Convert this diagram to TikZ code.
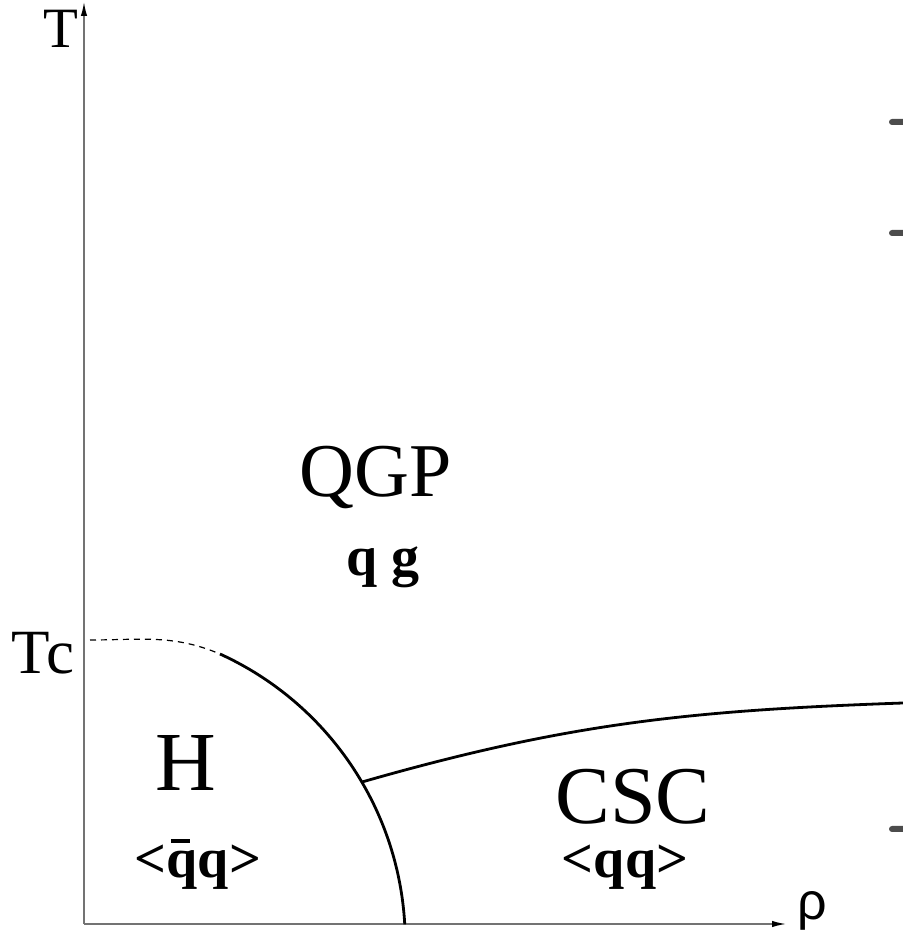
\documentclass[tikz,border=0pt]{standalone}
\usepackage{fontspec}
\setmainfont{Liberation Serif}
\newfontfamily\rhofont{Liberation Sans}
\usetikzlibrary{arrows.meta}

\newcommand{\qbar}{\rlap{\hspace{0.07em}\rule[0.6em]{0.34em}{0.075em}}q}

\begin{document}
\begin{tikzpicture}[
    x=0.5pt, y=0.5pt,
    axis/.style={line width=0.7pt, black!55, -{Latex[length=7pt, width=3.2pt, black]}},
    phase/.style={line width=1.4pt},
    guess/.style={line width=0.6pt, dash pattern=on 3pt off 2.5pt},
    big/.style={inner sep=0pt, anchor=base, text depth=0pt, font=\fontsize{#1}{#1}\selectfont},
    small/.style={inner sep=0pt, anchor=base, text height=20pt, font=\fontsize{#1}{#1}\selectfont\bfseries},
    smudge/.style={fill=black!70, rounded corners=1.5pt}
]
  \useasboundingbox (0,0) rectangle (903,931);

  % --- AXES ---
  \coordinate (o) at (84,7);
  \coordinate (ttop) at (84,929);
  \coordinate (rhoend) at (786,7);
  \draw[axis] (o) -- (ttop);
  \draw[axis] (o) -- (rhoend);

  \node[big=28.5pt] (tlab) at (61,883) {T};
  \node[big=31.5pt] (tclab) at (43,257) {Tc};
  \node[inner sep=0pt, anchor=base, font=\rhofont\fontsize{26pt}{26pt}\selectfont] (rholab) at (812,11) {ρ};

  % --- PHASE BOUNDARIES ---
  \coordinate (tc) at (90,291);
  \coordinate (b) at (220,277);
  \coordinate (d) at (362,149);
  \coordinate (r) at (903,228);

  \draw[guess] (tc) to[out=0, in=157] (b);
  \draw[phase] (b) arc[start angle=65.5, end angle=3.2, radius=316.5];
  \draw[phase] (d) to[out=16, in=182] (r);

  % --- PHASE LABELS ---
  \node[big=38pt] (qgp) at (376,434) {QGP};
  \node[small=28pt] (qg) at (383,355) {q g};
  \node[big=42pt] (h) at (186,140) {H};
  \node[small=28pt] (hcond) at (198,54) {<\qbar q>};
  \node[big=41pt] (csc) at (633,107) {CSC};
  \node[small=28pt] (csccond) at (625,53) {<qq>};

  % --- MARKS AT THE RIGHT EDGE ---
  \foreach \y in {809,698,102}
    \fill[smudge] (889,\y-3) rectangle (906,\y+3);

\end{tikzpicture}
\end{document}
